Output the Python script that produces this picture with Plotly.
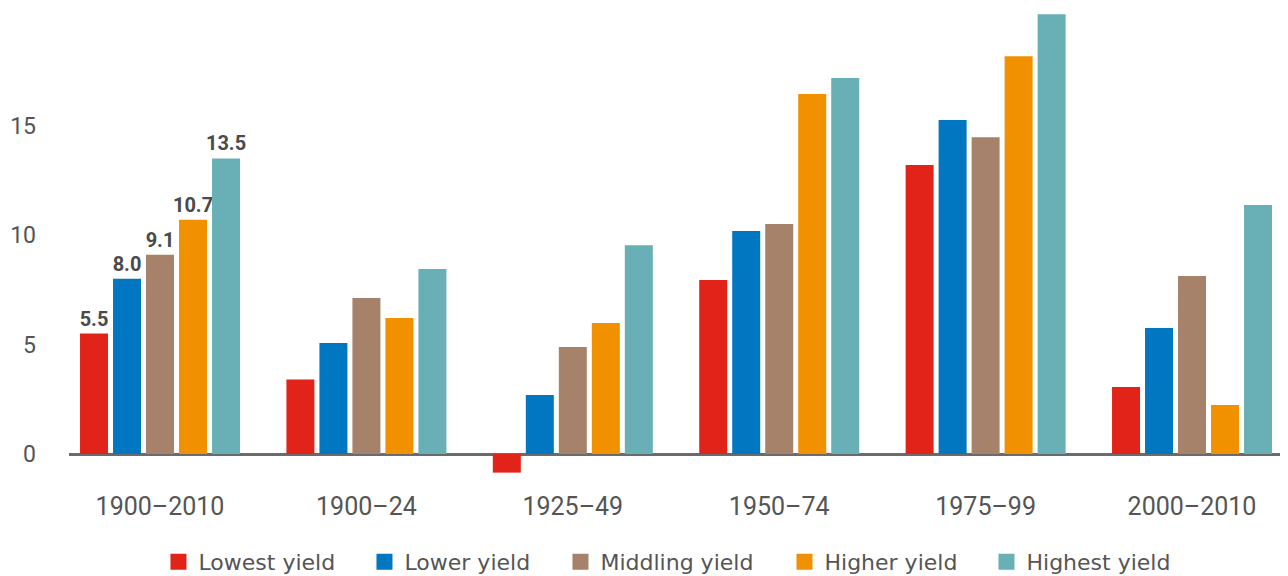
import plotly.graph_objects as go

categories = ["1900–2010", "1900–24", "1925–49", "1950–74", "1975–99", "2000–2010"]
series_names = ["Lowest yield", "Lower yield", "Middling yield", "Higher yield", "Highest yield"]
lowest = [5.5, 3.4, -0.85, 7.95, 13.2, 3.06]
lower = [8.0, 5.07, 2.69, 10.18, 15.25, 5.75]
middling = [9.1, 7.12, 4.89, 10.5, 14.47, 8.13]
higher = [10.7, 6.21, 5.98, 16.44, 18.17, 2.24]
highest = [13.5, 8.45, 9.54, 17.17, 20.09, 11.37]
labels_first_group = ["5.5", "8.0", "9.1", "10.7", "13.5"]
colors = ["#E2231A", "#0077C0", "#A7826A", "#F29100", "#69B0B6"]
legend_entry_widths = [161, 151, 179, 157, 147]
y_ticks = [0, 5, 10, 15]

series_values = [lowest, lower, middling, higher, highest]

fig = go.Figure()
for name, vals, col, lab in zip(series_names, series_values, colors, labels_first_group):
    texts = [lab] + [""] * (len(categories) - 1)
    fig.add_trace(go.Bar(
        x=categories, y=vals, name=name, showlegend=False,
        marker=dict(color=col, line=dict(width=0)),
        text=texts, textposition="outside", constraintext="none",
        textfont=dict(family="Roboto", size=20, color="#4a4a4a", weight="bold"),
        cliponaxis=False,
    ))

# legend entries (square swatches)
for name, col, lw in zip(series_names, colors, legend_entry_widths):
    fig.add_trace(go.Scatter(
        x=[None], y=[None], mode="markers", name=name,
        marker=dict(symbol="square", size=16, color=col),
        showlegend=True, hoverinfo="skip", legendwidth=lw,
    ))

fig.update_layout(
    width=1280, height=568,
    margin=dict(l=61, r=0, t=0, b=96, autoexpand=False),
    paper_bgcolor="white", plot_bgcolor="white",
    barmode="group", bargap=0.2006, bargroupgap=0.1515,
    showlegend=True,
    legend=dict(
        orientation="h", x=0.0734, xanchor="left", y=-0.1737, yanchor="middle",
        font=dict(family="DejaVu Sans", size=22, color="#555555"),
        traceorder="normal", entrywidthmode="pixels",
        itemsizing="trace",
    ),
    xaxis=dict(
        range=[-0.441, 5.465], showgrid=False, showline=False, zeroline=False,
        ticks="", tickfont=dict(family="Roboto", size=25, color="#555555"),
        ticklabelstandoff=9, automargin=False,
    ),
    yaxis=dict(
        range=[-1.187, 20.37], tickvals=y_ticks, showgrid=False, showline=False,
        zeroline=True, zerolinecolor="#6b6b6b", zerolinewidth=2.5,
        ticks="", tickfont=dict(family="Roboto", size=23, color="#555555"),
        ticklabelstandoff=32, automargin=False,
    ),
)

fig.write_html("out.html")
